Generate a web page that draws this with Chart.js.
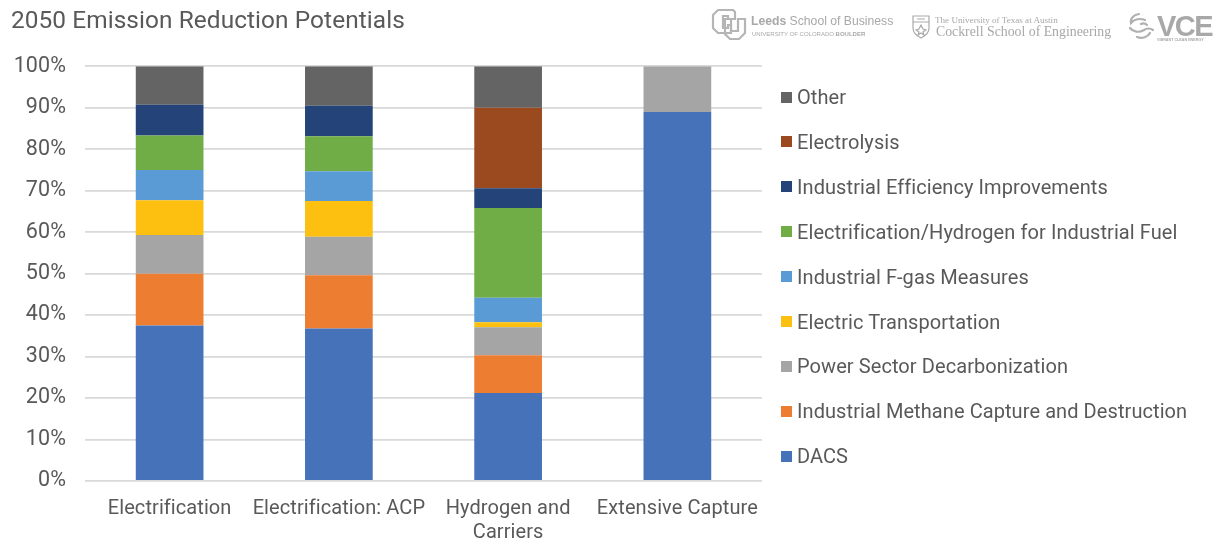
<!DOCTYPE html>
<html>
<head>
<meta charset="utf-8">
<style>
  html, body { margin: 0; background: #fff; }
  #wrap { position: relative; width: 1217px; height: 540px; overflow: hidden; }
  canvas { position: absolute; left: 0; top: 0; }
  .logo { position: absolute; white-space: nowrap; color: #a8a8a8; line-height: 1; filter: blur(0.3px); }
  .sans { font-family: "Liberation Sans", sans-serif; }
  .serif { font-family: "Liberation Serif", serif; }
  .legend-row { position: absolute; left: 781px; height: 24px; white-space: nowrap; color: #595959;
    font: 20px/24px Roboto, sans-serif; letter-spacing: 0.08px; }
  .legend-row i { position: absolute; left: 0; top: 6.5px; width: 11px; height: 11px; }
  .legend-row span { position: absolute; left: 16px; top: 0; }
</style>
</head>
<body>
<div id="wrap">
  <canvas id="emissions" width="1217" height="540"></canvas>
  <div id="legend"></div>

  <!-- partner marks, top right -->
  <svg class="logo" style="left:711px;top:8px" width="36" height="33" viewBox="0 0 36 33" fill="none" stroke="#b5b5b5" stroke-width="2.2">
    <path d="M7 2h15l2 2v7h-7v-3h-5v12h5v-3h3v8h-13l-5-5v-13l2-2z"/>
    <path d="M14 11h6v12h7v-12h7v14l-6 6h-9l-5-5z"/>
  </svg>
  <div class="logo sans" style="left:751px;top:15px;font-size:12.2px"><b>Leeds</b> School of Business</div>
  <div class="logo sans" style="left:752px;top:31px;font-size:6px">UNIVERSITY OF COLORADO <b>BOULDER</b></div>

  <svg class="logo" style="left:911px;top:14px" width="20" height="26" viewBox="0 0 20 26" fill="none" stroke="#aaa" stroke-width="1.2">
    <path d="M2 2h16v12c0 5-4 8-8 10-4-2-8-5-8-10z"/>
    <path d="M2 8h16M6 5h8M10 11l2 4 3 1-3 2 1 3-3-2-3 2 1-3-3-2 3-1z"/>
  </svg>
  <div class="logo serif" style="left:935px;top:16px;font-size:9.1px">The University of Texas at Austin</div>
  <div class="logo serif" style="left:936px;top:25px;font-size:13.8px">Cockrell School of Engineering</div>

  <svg class="logo" style="left:1127px;top:12px" width="32" height="30" viewBox="0 0 32 30" fill="none" stroke="#b0b0b0" stroke-width="2.2" stroke-linecap="round">
    <path d="M12 2c-6 1-9 5-8 9 3-4 9-5 14-3"/>
    <path d="M3 16c3 4 9 5 14 2 3-2 6-2 9 0"/>
    <path d="M10 25c5 2 11 0 13-4"/>
    <path d="M14 12c2-1 4-1 6 1"/>
  </svg>
  <div class="logo sans" style="left:1157px;top:12px;font-size:29px;font-weight:bold;letter-spacing:-1.5px">VCE</div>
  <div class="logo sans" style="left:1157px;top:39px;font-size:3.7px;font-weight:bold">VIBRANT CLEAN ENERGY</div>
</div>

<script src="https://cdn.jsdelivr.net/npm/chart.js@4"></script>
<script>
const categories = ["Electrification", "Electrification: ACP", ["Hydrogen and", "Carriers"], "Extensive Capture"];
const yTicks = [0, 10, 20, 30, 40, 50, 60, 70, 80, 90, 100];

// percent share of each measure per scenario
const dacs = [37.5, 36.8, 21.2, 89];
const methane = [12.5, 12.8, 9.1, 0];
const powerSector = [9.3, 9.3, 6.8, 11];
const electricTransport = [8.4, 8.6, 1.2, 0];
const fgas = [7.3, 7.2, 5.9, 0];
const electrificationFuel = [8.3, 8.4, 21.6, 0];
const efficiency = [7.4, 7.4, 4.8, 0];
const electrolysis = [0, 0, 19.4, 0];
const other = [9.3, 9.5, 10, 0];

const textColor = "#595959";
const fontFamily = "Roboto, sans-serif";

function series(label, data, color) {
  return {
    label: label,
    data: data,
    backgroundColor: color,
    borderWidth: 0,
    barPercentage: 0.4,
    categoryPercentage: 1,
  };
}

// Chart.js has no letter spacing option, so set it on the context itself
const spacedText = {
  id: "spacedText",
  beforeLayout: (chart) => { chart.ctx.letterSpacing = "0.08px"; },
  beforeDraw: (chart) => { chart.ctx.letterSpacing = "0.08px"; },
};

const emissionsChart = new Chart(document.getElementById("emissions"), {
  type: "bar",
  plugins: [spacedText],
  data: {
    labels: categories,
    datasets: [
      series("DACS", dacs, "#4672b9"),
      series("Industrial Methane Capture and Destruction", methane, "#ed7d31"),
      series("Power Sector Decarbonization", powerSector, "#a5a5a5"),
      series("Electric Transportation", electricTransport, "#fdc010"),
      series("Industrial F-gas Measures", fgas, "#5b9bd5"),
      series("Electrification/Hydrogen for Industrial Fuel", electrificationFuel, "#70ad47"),
      series("Industrial Efficiency Improvements", efficiency, "#234379"),
      series("Electrolysis", electrolysis, "#9b4a1f"),
      series("Other", other, "#636463"),
    ],
  },
  options: {
    responsive: false,
    animation: false,
    layout: { padding: { top: 7, left: 11, right: 455, bottom: 0 } },
    plugins: {
      legend: { display: false },
      tooltip: { enabled: false },
      title: {
        display: true,
        text: "2050 Emission Reduction Potentials",
        align: "start",
        color: textColor,
        font: { family: fontFamily, size: 24.4, weight: "normal" },
        padding: { top: 0, bottom: 30 },
      },
    },
    scales: {
      x: {
        stacked: true,
        grid: { display: false },
        border: { display: false },
        afterFit: (axis) => { axis.height = 59; },
        ticks: {
          color: textColor,
          font: { family: fontFamily, size: 20, lineHeight: 1.2 },
          maxRotation: 0,
          autoSkip: false,
          padding: 8,
        },
      },
      y: {
        stacked: true,
        min: 0,
        max: 100,
        afterFit: (axis) => { axis.width = 74; },
        afterBuildTicks: (axis) => {
          axis.ticks = yTicks.map((v) => ({ value: v }));
        },
        grid: { color: "#d9d9d9", lineWidth: 1.8, drawTicks: false },
        border: { display: false },
        ticks: {
          color: textColor,
          font: { family: fontFamily, size: 21.5 },
          padding: 19,
          callback: (v) => v + "%",
        },
      },
    },
  },
});

// legend column, top entry is the last stacked series
const legendBox = document.getElementById("legend");
emissionsChart.data.datasets.slice().reverse().forEach((ds, i) => {
  const row = document.createElement("div");
  row.className = "legend-row";
  row.style.top = 85 + i * 44.9 + "px";
  const swatch = document.createElement("i");
  swatch.style.background = ds.backgroundColor;
  const text = document.createElement("span");
  text.textContent = ds.label;
  row.append(swatch, text);
  legendBox.append(row);
});
</script>
</body>
</html>
